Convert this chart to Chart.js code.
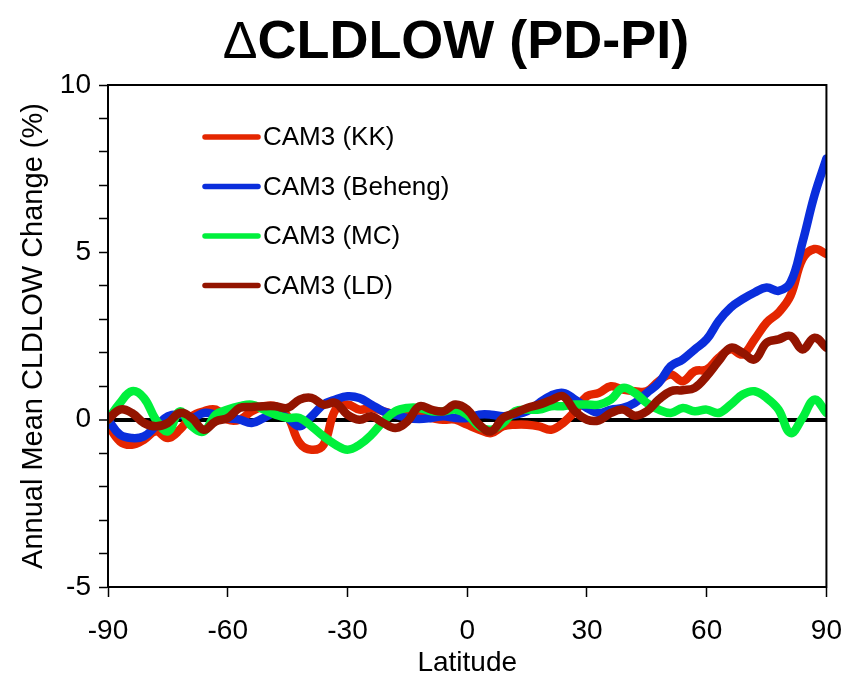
<!DOCTYPE html>
<html>
<head>
<meta charset="utf-8">
<title>ΔCLDLOW (PD-PI)</title>
<script src="https://cdn.jsdelivr.net/npm/chart.js@4.4.1/dist/chart.umd.min.js"></script>
<style>
  html, body { margin: 0; padding: 0; background: #fff; }
  #wrap { width: 859px; height: 677px; }
</style>
</head>
<body>
<div id="wrap"><canvas id="chart" width="859" height="677"></canvas></div>
<script>
// latitudes, every 3 degrees
const latitudes = [-90, -87, -84, -81, -78, -75, -72, -69, -66, -63, -60, -57, -54, -51, -48, -45, -42, -39, -36, -33,
    -30, -27, -24, -21, -18, -15, -12, -9, -6, -3, 0, 3, 6, 9, 12, 15, 18, 21, 24, 27,
    30, 33, 36, 39, 42, 45, 48, 51, 54, 57, 60, 63, 66, 69, 72, 75, 78, 81, 84, 87, 90];

// values (%)
const camKK = [-0.15, -0.65, -0.75, -0.6, -0.35, -0.55, -0.3, 0.1, 0.25, 0.3, 0.0, 0.0, 0.25, 0.4, 0.4, 0.1, -0.7, -0.9, -0.75, 0.3,
    0.45, 0.3, 0.35, 0.25, 0.15, 0.12, 0.1, 0.05, 0.0, 0.0, -0.15, -0.3, -0.4, -0.2, -0.15, -0.15, -0.2, -0.3, -0.1, 0.25,
    0.7, 0.8, 1.0, 0.9, 0.85, 0.85, 1.15, 1.35, 1.15, 1.45, 1.5, 1.85, 2.1, 1.95, 2.4, 2.9, 3.2, 3.7, 4.8, 5.1, 4.95];

const camBeheng = [0.0, -0.45, -0.55, -0.5, -0.2, 0.1, 0.15, 0.05, 0.2, 0.15, 0.05, 0.0, -0.1, 0.05, 0.2, 0.05, -0.2, 0.1, 0.45, 0.6,
    0.7, 0.65, 0.45, 0.25, 0.15, 0.05, 0.02, 0.05, 0.1, 0.05, 0.05, 0.15, 0.15, 0.1, 0.15, 0.25, 0.5, 0.72, 0.8, 0.6,
    0.35, 0.2, 0.3, 0.35, 0.5, 0.8, 1.1, 1.6, 1.8, 2.1, 2.4, 2.95, 3.35, 3.6, 3.8, 3.95, 3.85, 4.1, 5.3, 6.7, 7.8];

const camMC = [0.0, 0.5, 0.85, 0.65, 0.0, -0.35, 0.25, -0.2, -0.35, 0.15, 0.3, 0.4, 0.45, 0.3, 0.15, 0.05, 0.05, -0.2, -0.5, -0.75,
    -0.9, -0.75, -0.45, -0.05, 0.25, 0.35, 0.35, 0.25, 0.25, 0.3, 0.15, -0.2, -0.3, -0.1, 0.25, 0.3, 0.3, 0.4, 0.4, 0.45,
    0.45, 0.45, 0.6, 0.95, 0.8, 0.5, 0.3, 0.2, 0.35, 0.25, 0.3, 0.2, 0.45, 0.75, 0.85, 0.65, 0.3, -0.4, 0.05, 0.6, 0.2];

const camLD = [0.0, 0.3, 0.2, -0.1, -0.2, -0.1, 0.2, 0.05, -0.3, -0.05, 0.05, 0.35, 0.38, 0.4, 0.4, 0.35, 0.6, 0.65, 0.45, 0.5,
    0.15, 0.0, 0.1, -0.1, -0.25, -0.05, 0.4, 0.3, 0.25, 0.45, 0.3, -0.15, -0.35, 0.05, 0.2, 0.35, 0.45, 0.58, 0.7, 0.25,
    0.0, -0.02, 0.2, 0.3, 0.12, 0.25, 0.6, 0.85, 0.88, 0.95, 1.3, 1.75, 2.15, 2.0, 1.8, 2.3, 2.4, 2.5, 2.1, 2.45, 2.15];

const seriesNames = ['CAM3 (KK)', 'CAM3 (Beheng)', 'CAM3 (MC)', 'CAM3 (LD)'];
const seriesColors = ['#e42600', '#0a2edc', '#00f03c', '#931400'];
const xTicks = [-90, -60, -30, 0, 30, 60, 90];

const fontFamily = '"Liberation Sans", Arial, sans-serif';

function toPoints(values) {
    return latitudes.map((lat, i) => ({ x: lat, y: values[i] }));
}

// title: thin delta, bold rest
const titlePlugin = {
    id: 'deltaTitle',
    afterDraw(chart) {
        const { ctx } = chart;
        const delta = 'Δ';
        const rest = 'CLDLOW (PD-PI)';
        ctx.save();
        ctx.fillStyle = '#000';
        ctx.textBaseline = 'alphabetic';
        ctx.font = '52px ' + fontFamily;
        const w1 = ctx.measureText(delta).width;
        ctx.font = 'bold 54px ' + fontFamily;
        const w2 = ctx.measureText(rest).width;
        const x0 = 456 - (w1 + w2) / 2;
        ctx.font = '52px ' + fontFamily;
        ctx.fillText(delta, x0, 58);
        ctx.font = 'bold 54px ' + fontFamily;
        ctx.fillText(rest, x0 + w1, 58);
        ctx.restore();
    }
};

// frame around the plot area
const framePlugin = {
    id: 'frame',
    afterDraw(chart) {
        const { ctx, chartArea: a } = chart;
        ctx.save();
        ctx.strokeStyle = '#000';
        ctx.lineWidth = 2;
        ctx.strokeRect(a.left, a.top, a.right - a.left, a.bottom - a.top);
        ctx.restore();
    }
};

// legend inside the plot
const insideLegend = {
    id: 'insideLegend',
    afterDatasetsDraw(chart) {
        const { ctx, chartArea: a } = chart;
        ctx.save();
        ctx.font = '26px ' + fontFamily;
        ctx.textBaseline = 'middle';
        ctx.fillStyle = '#000';
        seriesNames.forEach((name, i) => {
            const y = a.top + 52 + i * 49.5;
            ctx.strokeStyle = seriesColors[i];
            ctx.lineWidth = 5.5;
            ctx.lineCap = 'round';
            ctx.beginPath();
            ctx.moveTo(a.left + 97, y);
            ctx.lineTo(a.left + 150, y);
            ctx.stroke();
            ctx.fillText(name, a.left + 155, y + 1);
        });
        ctx.restore();
    }
};

const series = [camKK, camBeheng, camMC, camLD];
const drawOrder = [4, 3, 2, 1];

const ctx = document.getElementById('chart').getContext('2d');
const chart = new Chart(ctx, {
    type: 'line',
    data: {
        datasets: series.map((vals, i) => ({
            label: seriesNames[i],
            data: toPoints(vals),
            borderColor: seriesColors[i],
            borderWidth: 8.5,
            pointRadius: 0,
            tension: 0.4,
            borderJoinStyle: 'round',
            borderCapStyle: 'round',
            fill: false,
            order: drawOrder[i]
        }))
    },
    options: {
        responsive: false,
        animation: false,
        layout: { padding: { left: 0, right: 26, top: 85, bottom: 0 } },
        plugins: {
            legend: { display: false },
            tooltip: { enabled: false },
            title: { display: false }
        },
        scales: {
            x: {
                type: 'linear',
                min: -90,
                max: 90,
                afterBuildTicks: (scale) => { scale.ticks = xTicks.map(v => ({ value: v })); },
                ticks: {
                    color: '#000',
                    padding: 17,
                    maxRotation: 0,
                    font: { family: fontFamily, size: 28 }
                },
                grid: {
                    drawOnChartArea: false,
                    drawTicks: true,
                    tickLength: 10,
                    tickColor: '#000',
                    tickWidth: 1.5
                },
                border: { display: true, color: '#000', width: 2 },
                title: {
                    display: true,
                    text: 'Latitude',
                    color: '#000',
                    font: { family: fontFamily, size: 28 },
                    padding: { top: 0, bottom: -3 }
                },
                afterFit: (scale) => { scale.height = 90; }
            },
            y: {
                min: -5,
                max: 10,
                ticks: {
                    stepSize: 1,
                    autoSkip: false,
                    color: '#000',
                    padding: 8,
                    font: { family: fontFamily, size: 28 },
                    callback: (v) => (v % 5 === 0 ? v : '')
                },
                grid: {
                    color: (c) => (c.tick && c.tick.value === 0 ? '#000' : 'rgba(0,0,0,0)'),
                    lineWidth: (c) => (c.tick && c.tick.value === 0 ? 4 : 1),
                    drawTicks: true,
                    tickLength: 9,
                    tickColor: '#000',
                    tickWidth: 1.5
                },
                border: { display: true, color: '#000', width: 2 },
                title: {
                    display: true,
                    text: 'Annual Mean CLDLOW Change (%)',
                    color: '#000',
                    font: { family: fontFamily, size: 29 },
                    padding: { top: 17, bottom: 0 }
                },
                afterFit: (scale) => { scale.width = 108; }
            }
        }
    },
    plugins: [titlePlugin, framePlugin, insideLegend]
});
</script>
</body>
</html>
